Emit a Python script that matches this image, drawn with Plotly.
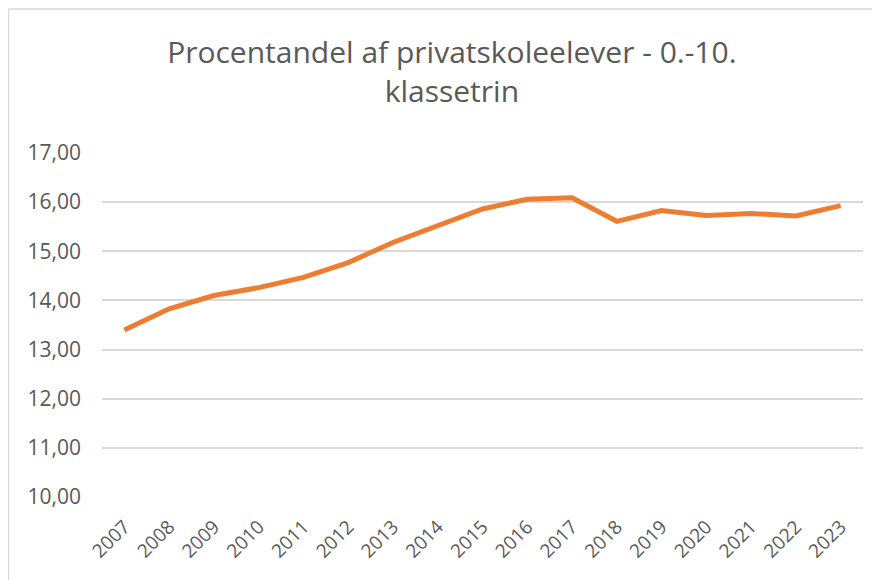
import plotly.graph_objects as go

years = ["2007", "2008", "2009", "2010", "2011", "2012", "2013", "2014", "2015",
         "2016", "2017", "2018", "2019", "2020", "2021", "2022", "2023"]
share = [13.40, 13.83, 14.10, 14.26, 14.47, 14.77, 15.18, 15.52, 15.86,
         16.06, 16.09, 15.61, 15.83, 15.73, 15.77, 15.72, 15.93]
y_ticks = [10, 11, 12, 13, 14, 15, 16, 17]
y_tick_labels = ["10,00", "11,00", "12,00", "13,00", "14,00", "15,00", "16,00", "17,00"]
title_text = "Procentandel af privatskoleelever - 0.-10.<br>klassetrin"

FONT = "Open Sans, Lato, sans-serif"
W, H = 872, 572
L, R, T, B = 94, 17, 145, 83
pw, ph = W - L - R, H - T - B

fig = go.Figure()
fig.add_trace(go.Scatter(
    x=years, y=share, mode="lines",
    line=dict(color="#ED7D31", width=5),
    hoverinfo="x+y", showlegend=False,
))

fig.update_layout(
    width=W, height=H,
    margin=dict(l=L, r=R, t=T, b=B, autoexpand=False),
    paper_bgcolor="white", plot_bgcolor="white",
    font=dict(family=FONT, color="#595959"),
    title=dict(text=title_text, x=0.509, xanchor="center", y=0.903, yanchor="middle",
               font=dict(size=30, color="#595959", family=FONT)),
    xaxis=dict(type="category", range=[-0.5, 16.5], showgrid=False, zeroline=False,
               showline=False, ticks="", tickangle=-45, ticklabelstandoff=14,
               tickfont=dict(size=19, color="#595959")),
    yaxis=dict(range=[10, 17], tickvals=y_ticks, ticktext=y_tick_labels,
               showgrid=True, gridcolor="#D9D9D9", gridwidth=1.5, zeroline=False,
               showline=False, ticks="", ticklabelstandoff=20,
               tickfont=dict(size=21, color="#595959")),
    shapes=[dict(type="rect", xref="paper", yref="paper",
                 x0=(0.5 - L) / pw, x1=(W + 20 - L) / pw,
                 y0=-(B + 20) / ph, y1=1 + (T - 1) / ph,
                 line=dict(color="#D9D9D9", width=1.5), fillcolor="rgba(0,0,0,0)",
                 layer="below")],
)

fig.write_html("out.html")
